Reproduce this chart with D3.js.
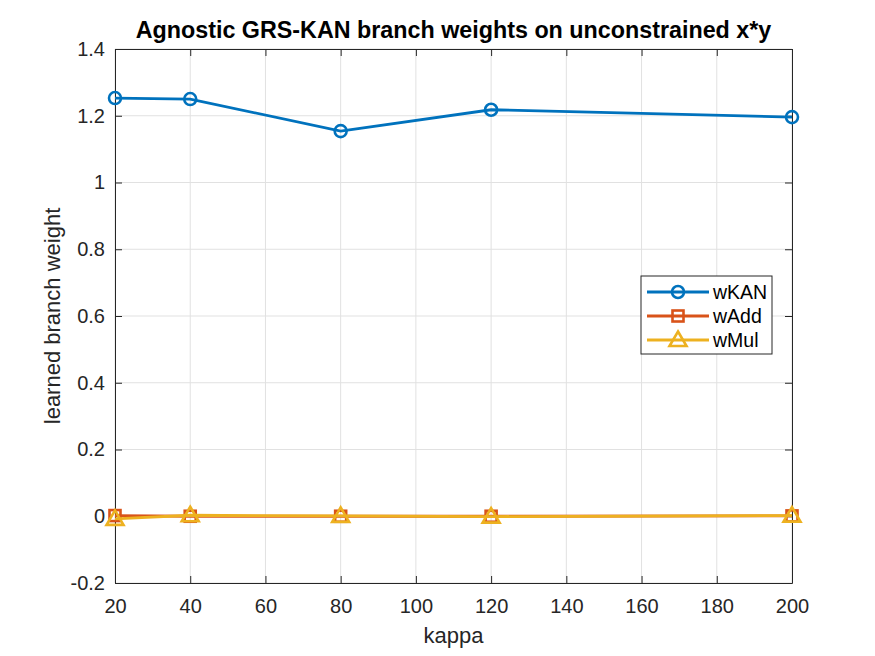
<!DOCTYPE html>
<html>
<head>
<meta charset="utf-8">
<script src="https://cdn.jsdelivr.net/npm/d3@7"></script>
<style>
  body { margin: 0; background: #fff; }
  text { font-family: "Liberation Sans", Arial, sans-serif; }
</style>
</head>
<body>
<div id="chart"></div>
<script>
// datos
const kappa = [20, 40, 80, 120, 200];
const wKAN = [1.253, 1.250, 1.154, 1.218, 1.196];
const wAdd = [0.002, 0.000, 0.000, 0.000, 0.001];
const wMul = [-0.008, 0.003, 0.001, -0.001, 0.002];
const xTicks = [20, 40, 60, 80, 100, 120, 140, 160, 180, 200];
const yTicks = [-0.2, 0, 0.2, 0.4, 0.6, 0.8, 1, 1.2, 1.4];

const W = 875, H = 656;
const margin = { top: 49, right: 83, bottom: 73, left: 115 };
const width = W - margin.left - margin.right;
const height = H - margin.top - margin.bottom;

const svg = d3.select("#chart").append("svg")
    .attr("width", W)
    .attr("height", H);

const g = svg.append("g")
    .attr("transform", "translate(" + margin.left + "," + margin.top + ")");

const x = d3.scaleLinear().domain([20, 200]).range([0, width]);
const y = d3.scaleLinear().domain([-0.2, 1.4]).range([height, 0]);

const axisColor = "#262626";
const gridColor = "#e1e1e1";

// rejilla
g.append("g").selectAll("line").data(xTicks).enter().append("line")
    .attr("x1", d => x(d)).attr("x2", d => x(d))
    .attr("y1", 0).attr("y2", height)
    .attr("stroke", gridColor).attr("stroke-width", 1);
g.append("g").selectAll("line").data(yTicks).enter().append("line")
    .attr("x1", 0).attr("x2", width)
    .attr("y1", d => y(d)).attr("y2", d => y(d))
    .attr("stroke", gridColor).attr("stroke-width", 1);

// ejes (ticks hacia adentro)
const tickLen = 7;
const xAxis = d3.axisBottom(x).tickValues(xTicks).tickSizeInner(-tickLen).tickSizeOuter(0).tickPadding(16);
const yAxis = d3.axisLeft(y).tickValues(yTicks).tickSizeInner(-tickLen).tickSizeOuter(0).tickPadding(10)
    .tickFormat(d => String(+d.toFixed(1)));

const gx = g.append("g").attr("transform", "translate(0," + height + ")").call(xAxis);
const gy = g.append("g").call(yAxis);
const gxTop = g.append("g").call(d3.axisTop(x).tickValues(xTicks).tickSizeInner(-tickLen).tickSizeOuter(0).tickFormat(""));
const gyRight = g.append("g").attr("transform", "translate(" + width + ",0)")
    .call(d3.axisRight(y).tickValues(yTicks).tickSizeInner(-tickLen).tickSizeOuter(0).tickFormat(""));

[gx, gy, gxTop, gyRight].forEach(a => {
    a.select(".domain").attr("stroke", axisColor).attr("stroke-width", 1);
    a.selectAll(".tick line").attr("stroke", axisColor);
    a.selectAll(".tick text").attr("fill", axisColor)
        .style("font-size", "20px")
        .style("font-family", "'Liberation Sans', Arial, sans-serif");
});

// series
const series = [
    { name: "wKAN", values: wKAN, color: "#0072BD", marker: "circle" },
    { name: "wAdd", values: wAdd, color: "#D95319", marker: "square" },
    { name: "wMul", values: wMul, color: "#EDB120", marker: "triangle" }
];

const line = d3.line()
    .x((d, i) => x(kappa[i]))
    .y(d => y(d));

function drawMarker(sel, type, color) {
    if (type === "circle") {
        sel.append("circle").attr("r", 6);
    } else if (type === "square") {
        sel.append("rect").attr("x", -5.5).attr("y", -5.5).attr("width", 11).attr("height", 11);
    } else {
        sel.append("path").attr("d", "M0,-8.5L8.5,6L-8.5,6Z");
    }
    sel.selectAll("*")
        .attr("fill", "none")
        .attr("stroke", color)
        .attr("stroke-width", 2.6);
}

series.forEach(s => {
    g.append("path")
        .datum(s.values)
        .attr("d", line)
        .attr("fill", "none")
        .attr("stroke", s.color)
        .attr("stroke-width", 2.8);
    s.values.forEach((v, i) => {
        const m = g.append("g").attr("transform", "translate(" + x(kappa[i]) + "," + y(v) + ")");
        drawMarker(m, s.marker, s.color);
    });
});

// titulo y etiquetas
svg.append("text")
    .attr("x", margin.left + width / 2)
    .attr("y", 38)
    .attr("text-anchor", "middle")
    .style("font-size", "23.3px")
    .style("font-weight", "bold")
    .attr("fill", "#000")
    .text("Agnostic GRS-KAN branch weights on unconstrained x*y");

svg.append("text")
    .attr("x", margin.left + width / 2)
    .attr("y", 643)
    .attr("text-anchor", "middle")
    .style("font-size", "22px")
    .attr("fill", axisColor)
    .text("kappa");

svg.append("text")
    .attr("transform", "translate(60," + (margin.top + height / 2) + ") rotate(-90)")
    .attr("text-anchor", "middle")
    .style("font-size", "22px")
    .attr("fill", axisColor)
    .text("learned branch weight");

// leyenda
const legend = svg.append("g").attr("transform", "translate(641,276)");
legend.append("rect")
    .attr("width", 131).attr("height", 78)
    .attr("fill", "#fff").attr("stroke", axisColor).attr("stroke-width", 1);
series.forEach((s, i) => {
    const ly = 16 + i * 24;
    legend.append("line")
        .attr("x1", 6).attr("x2", 68).attr("y1", ly).attr("y2", ly)
        .attr("stroke", s.color).attr("stroke-width", 2.8);
    const m = legend.append("g").attr("transform", "translate(37," + ly + ")");
    drawMarker(m, s.marker, s.color);
    legend.append("text")
        .attr("x", 72).attr("y", ly + 7)
        .style("font-size", "19.5px")
        .attr("fill", "#000")
        .text(s.name);
});
</script>
</body>
</html>
